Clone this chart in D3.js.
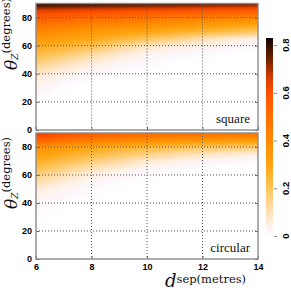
<!DOCTYPE html>
<html>
<head>
<meta charset="utf-8">
<script src="https://cdn.jsdelivr.net/npm/d3@7/dist/d3.min.js"></script>
<style>
  body { margin: 0; background: #fff; }
  svg { display: block; }
</style>
</head>
<body>
<svg id="chart" width="291" height="291"></svg>
<script>
// grid: columns = dSep, rows = thetaZ (bottom to top)
var dSep = [6, 7, 8, 9, 10, 11, 12, 13, 14];
var thetaZ = [0, 5, 10, 15, 20, 25, 30, 35, 40, 45, 50, 55, 60, 65, 70, 75, 80, 85, 88, 90];

var squareVals = [
  [0, 0, 0, 0, 0, 0, 0, 0, 0],
  [0, 0, 0, 0, 0, 0, 0, 0, 0],
  [0, 0, 0, 0, 0, 0, 0, 0, 0],
  [0.005, 0, 0, 0, 0, 0, 0, 0, 0],
  [0.01, 0.003, 0, 0, 0, 0, 0, 0, 0],
  [0.02, 0.006, 0, 0, 0, 0, 0, 0, 0],
  [0.03, 0.01, 0.003, 0, 0, 0, 0, 0, 0],
  [0.05, 0.02, 0.007, 0.002, 0, 0, 0, 0, 0],
  [0.08, 0.04, 0.02, 0.008, 0.003, 0, 0, 0, 0],
  [0.13, 0.08, 0.04, 0.02, 0.01, 0.004, 0, 0, 0],
  [0.19, 0.13, 0.08, 0.04, 0.02, 0.01, 0.006, 0.003, 0],
  [0.24, 0.20, 0.14, 0.08, 0.04, 0.025, 0.015, 0.01, 0.005],
  [0.29, 0.26, 0.22, 0.15, 0.09, 0.06, 0.04, 0.025, 0.015],
  [0.35, 0.32, 0.29, 0.25, 0.21, 0.16, 0.11, 0.07, 0.04],
  [0.41, 0.38, 0.35, 0.32, 0.30, 0.27, 0.25, 0.22, 0.19],
  [0.49, 0.46, 0.43, 0.41, 0.39, 0.36, 0.34, 0.32, 0.30],
  [0.57, 0.54, 0.52, 0.50, 0.48, 0.46, 0.45, 0.43, 0.42],
  [0.65, 0.64, 0.63, 0.62, 0.61, 0.60, 0.59, 0.58, 0.57],
  [0.76, 0.75, 0.74, 0.73, 0.72, 0.71, 0.70, 0.69, 0.68],
  [0.82, 0.81, 0.80, 0.79, 0.79, 0.78, 0.77, 0.76, 0.75]
];

var circularVals = [
  [0, 0, 0, 0, 0, 0, 0, 0, 0],
  [0, 0, 0, 0, 0, 0, 0, 0, 0],
  [0, 0, 0, 0, 0, 0, 0, 0, 0],
  [0, 0, 0, 0, 0, 0, 0, 0, 0],
  [0.003, 0, 0, 0, 0, 0, 0, 0, 0],
  [0.006, 0.002, 0, 0, 0, 0, 0, 0, 0],
  [0.01, 0.005, 0.001, 0, 0, 0, 0, 0, 0],
  [0.015, 0.008, 0.003, 0, 0, 0, 0, 0, 0],
  [0.025, 0.012, 0.005, 0.002, 0, 0, 0, 0, 0],
  [0.04, 0.02, 0.01, 0.004, 0.001, 0, 0, 0, 0],
  [0.06, 0.03, 0.014, 0.006, 0.002, 0, 0, 0, 0],
  [0.11, 0.06, 0.025, 0.01, 0.005, 0.002, 0, 0, 0],
  [0.16, 0.10, 0.05, 0.025, 0.012, 0.006, 0.003, 0.001, 0],
  [0.22, 0.16, 0.10, 0.06, 0.03, 0.018, 0.01, 0.005, 0.003],
  [0.28, 0.22, 0.17, 0.12, 0.07, 0.05, 0.03, 0.02, 0.015],
  [0.33, 0.28, 0.24, 0.20, 0.16, 0.12, 0.09, 0.07, 0.05],
  [0.38, 0.34, 0.30, 0.27, 0.25, 0.22, 0.20, 0.19, 0.18],
  [0.55, 0.50, 0.46, 0.43, 0.40, 0.38, 0.36, 0.35, 0.34],
  [0.62, 0.57, 0.53, 0.50, 0.48, 0.46, 0.45, 0.44, 0.43],
  [0.66, 0.61, 0.57, 0.54, 0.52, 0.51, 0.50, 0.48, 0.47]
];

var panelNames = ["square", "circular"];
var xTicks = [6, 8, 10, 12, 14];
var yTicks = [0, 20, 40, 60, 80];
var cbarTicks = [0, 0.2, 0.4, 0.6, 0.8];
var cbarMax = 0.83;

// colour map (white -> orange -> black)
var cmapStops = [0, 0.006, 0.02, 0.05, 0.1, 0.2, 0.3, 0.4, 0.5, 0.6, 0.65, 0.7, 0.75, 0.8, 0.83];
var cmapColors = ["#ffffff", "#ffffff", "#fcf6fb", "#fff0e2", "#ffe0b4", "#ffc45a", "#ffa410", "#ff8a00",
                  "#ff6e00", "#ff5000", "#e04200", "#a83000", "#6a1e00", "#301000", "#0c0300"];

var color = d3.scaleLinear().domain(cmapStops).range(cmapColors).clamp(true);

var svg = d3.select("#chart");
var left = 36, right = 258;
var panels = [
  { vals: squareVals, top: 3.5, bottom: 130 },
  { vals: circularVals, top: 133, bottom: 259 }
];

var x = d3.scaleLinear().domain([6, 14]).range([left, right]);

function valueAt(grid, d, th) {
  var i = Math.max(0, Math.min(dSep.length - 2, d3.bisectRight(dSep, d) - 1));
  var j = Math.max(0, Math.min(thetaZ.length - 2, d3.bisectRight(thetaZ, th) - 1));
  var tx = (d - dSep[i]) / (dSep[i + 1] - dSep[i]);
  var ty = (th - thetaZ[j]) / (thetaZ[j + 1] - thetaZ[j]);
  tx = Math.max(0, Math.min(1, tx));
  ty = Math.max(0, Math.min(1, ty));
  var a = grid[j][i] * (1 - tx) + grid[j][i + 1] * tx;
  var b = grid[j + 1][i] * (1 - tx) + grid[j + 1][i + 1] * tx;
  return a * (1 - ty) + b * ty;
}

panels.forEach(function(p, k) {
  var y = d3.scaleLinear().domain([0, 90]).range([p.bottom, p.top]);
  var w = Math.round(right - left), h = Math.round(p.bottom - p.top);
  var canvas = document.createElement("canvas");
  canvas.width = w; canvas.height = h;
  var ctx = canvas.getContext("2d");
  var img = ctx.createImageData(w, h);
  for (var r = 0; r < h; r++) {
    var th = y.invert(p.top + r + 0.5);
    for (var c = 0; c < w; c++) {
      var d = x.invert(left + c + 0.5);
      var col = d3.rgb(color(valueAt(p.vals, d, th)));
      var o = (r * w + c) * 4;
      img.data[o] = col.r; img.data[o + 1] = col.g; img.data[o + 2] = col.b; img.data[o + 3] = 255;
    }
  }
  ctx.putImageData(img, 0, 0);
  svg.append("image")
    .attr("x", x(6)).attr("y", y(90))
    .attr("width", x(14) - x(6)).attr("height", y(0) - y(90))
    .attr("preserveAspectRatio", "none")
    .attr("href", canvas.toDataURL());

  // dotted grid
  var g = svg.append("g");
  g.selectAll(".vx").data(xTicks.slice(1, -1)).enter().append("line")
    .attr("x1", x).attr("x2", x).attr("y1", p.top).attr("y2", p.bottom)
    .attr("stroke", "#555").attr("stroke-width", 1).attr("stroke-dasharray", "1,2");
  g.selectAll(".hy").data(yTicks.slice(1)).enter().append("line")
    .attr("x1", left).attr("x2", right).attr("y1", y).attr("y2", y)
    .attr("stroke", "#555").attr("stroke-width", 1).attr("stroke-dasharray", "1,2");

  // axes
  var ya = svg.append("g").attr("transform", "translate(" + left + ",0)")
    .call(d3.axisLeft(y).tickValues(yTicks).tickSize(-3).tickPadding(4));
  var yr = svg.append("g").attr("transform", "translate(" + right + ",0)")
    .call(d3.axisRight(y).tickValues(yTicks).tickSize(-3).tickFormat(""));
  var xa = svg.append("g").attr("transform", "translate(0," + p.bottom + ")")
    .call(d3.axisBottom(x).tickValues(xTicks).tickSize(-3).tickPadding(5)
      .tickFormat(k === 1 ? d3.format("d") : ""));
  [ya, yr, xa].forEach(function(a) {
    a.select(".domain").remove();
    a.selectAll(".tick line").attr("stroke", "#666");
    a.selectAll("text").attr("fill", "#000")
      .style("font-family", "'Liberation Sans', Arial, sans-serif")
      .style("font-weight", "bold").style("font-size", "9px");
  });

  svg.append("rect")
    .attr("x", left).attr("y", p.top).attr("width", right - left).attr("height", p.bottom - p.top)
    .attr("fill", "none").attr("stroke", "#8a8a8a").attr("stroke-width", 1.4);

  svg.append("text")
    .attr("x", right - 8).attr("y", p.bottom - 7)
    .attr("text-anchor", "end")
    .style("font-family", "'Liberation Serif', 'Times New Roman', serif")
    .style("font-size", "13px").attr("fill", "#111")
    .text(panelNames[k]);

  // y label
  var yl = svg.append("text")
    .attr("transform", "translate(17," + (k === 0 ? 70 : 209) + ") rotate(-90)")
    .style("font-family", "'DejaVu Serif', serif").attr("fill", "#111");
  yl.append("tspan").style("font-style", "italic").style("font-size", "17px").text("θ");
  yl.append("tspan").style("font-style", "italic").style("font-size", "9px").attr("dy", 1).text("Z");
  yl.append("tspan").style("font-size", "11.5px").attr("dy", -8).text("(degrees)");
});

// x label
var xl = svg.append("text")
  .attr("x", 165).attr("y", 287)
  .style("font-family", "'DejaVu Serif', serif").attr("fill", "#111");
xl.append("tspan").style("font-style", "italic").style("font-size", "18px").text("d");
xl.append("tspan").style("font-size", "11.5px").attr("dy", -4).text("sep(metres)");

// colour bar
var cy = d3.scaleLinear().domain([0, cbarMax]).range([236, 38]);
var grad = svg.append("defs").append("linearGradient")
  .attr("id", "cbar").attr("x1", 0).attr("y1", 1).attr("x2", 0).attr("y2", 0);
grad.selectAll("stop").data(d3.range(0, 1.0001, 0.02)).enter().append("stop")
  .attr("offset", function(t) { return t; })
  .attr("stop-color", function(t) { return color(t * cbarMax); });
svg.append("rect")
  .attr("x", 266).attr("y", cy(cbarMax)).attr("width", 7).attr("height", cy(0) - cy(cbarMax))
  .attr("fill", "url(#cbar)");
var cb = svg.append("g").attr("transform", "translate(273,0)")
  .call(d3.axisRight(cy).tickValues(cbarTicks).tickSize(3).tickFormat(""));
cb.select(".domain").remove();
cb.selectAll(".tick line").attr("stroke", "#888").attr("transform", "translate(1,0)");
svg.selectAll(".cbl").data(cbarTicks).enter().append("text")
  .attr("transform", function(t) { return "translate(286," + cy(t) + ") rotate(-90)"; })
  .attr("text-anchor", "middle").attr("dy", "0.35em")
  .style("font-family", "'Liberation Sans', Arial, sans-serif")
  .style("font-weight", "bold").style("font-size", "9.5px").attr("fill", "#000")
  .text(function(t) { return t === 0 ? "0" : d3.format(".1f")(t); });
</script>
</body>
</html>
